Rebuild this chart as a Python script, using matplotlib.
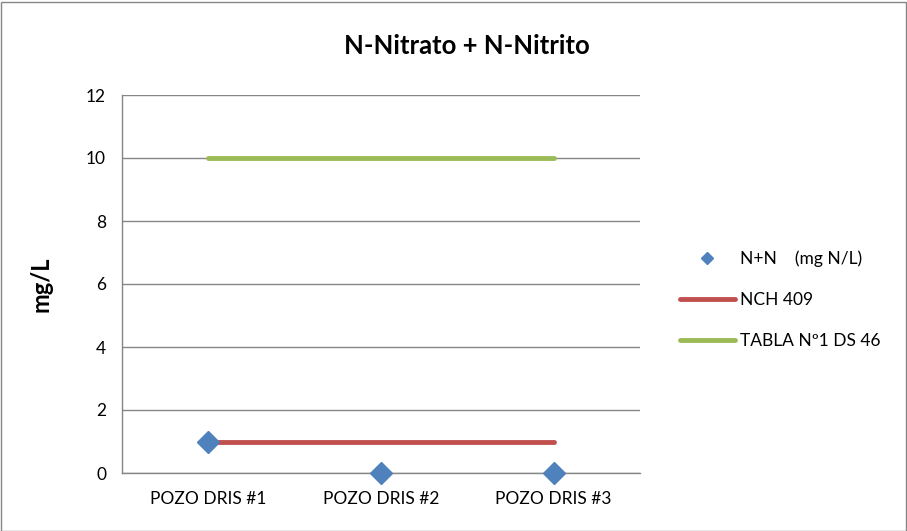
import numpy as np
import matplotlib
matplotlib.use('Agg')
import matplotlib.pyplot as plt
from matplotlib.patches import Rectangle

plt.rcParams['font.family'] = ['Lato', 'DejaVu Sans']

categories = ['POZO DRIS #1', 'POZO DRIS #2', 'POZO DRIS #3']
nn_values = [1.0, 0.0, 0.0]
nch409 = [1.0, 1.0, 1.0]
tabla_ds46 = [10.0, 10.0, 10.0]
y_ticks = [0, 2, 4, 6, 8, 10, 12]

fig = plt.figure(figsize=(9.07, 5.31), dpi=100)
ax = fig.add_axes([122/907, 58/531, 518/907, 378/531])

x = np.arange(len(categories))
ax.plot(x, tabla_ds46, color='#9BBB59', lw=3.5, solid_capstyle='round', label='TABLA Nº1 DS 46', zorder=3)
ax.plot(x, nch409, color='#C0504D', lw=3.5, solid_capstyle='round', label='NCH 409', zorder=3)
ax.plot(x, nn_values, ls='none', marker='D', ms=11, color='#4F81BD', label='N+N    (mg N/L)',
        zorder=4, clip_on=False)

ax.set_xlim(-0.5, 2.5)
ax.set_ylim(0, 12)
ax.set_yticks(y_ticks)
ax.set_xticks(x)
ax.set_xticklabels(categories)
ax.tick_params(axis='both', length=0, labelsize=12.5, colors='black')
ax.tick_params(axis='x', pad=13)
ax.tick_params(axis='y', pad=11.5)
ax.grid(axis='y', color='#868686', lw=1)
ax.set_axisbelow(True)
for side in ['top', 'right']:
    ax.spines[side].set_visible(False)
for side in ['left', 'bottom']:
    ax.spines[side].set_color('#868686')
    ax.spines[side].set_linewidth(1)

ax.set_ylabel('mg/L', fontsize=17, fontweight='bold', labelpad=24)
fig.text(467/907, 1 - 46/531, 'N-Nitrato + N-Nitrito', ha='center', va='center',
         fontsize=18.5, fontweight='bold')

handles, labels = ax.get_legend_handles_labels()
order = [2, 1, 0]
ax.legend([handles[i] for i in order], [labels[i] for i in order],
          loc='center left', bbox_to_anchor=(558/518, 173/378), frameon=False,
          borderaxespad=0, borderpad=0, markerscale=0.6,
          fontsize=12.5, handlelength=3.16, handletextpad=0.3, labelspacing=1.45)

fig.patches.append(Rectangle((0.5/907, 0.5/531), 1 - 2/907, 1 - 2/531, transform=fig.transFigure,
                             fill=False, edgecolor='#868686', lw=1))

fig.savefig('out.png', dpi=100)
